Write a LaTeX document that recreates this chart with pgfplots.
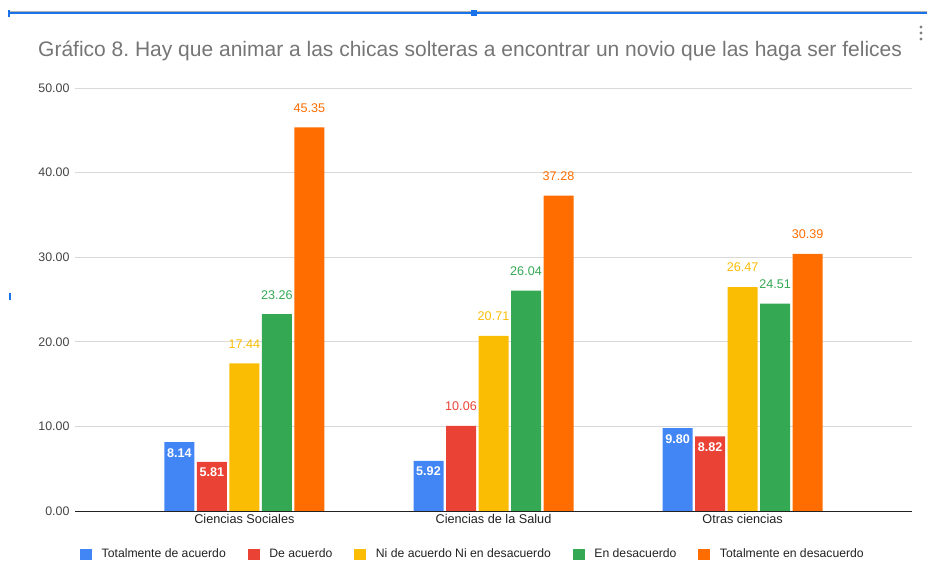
\documentclass[border=0pt]{standalone}
\usepackage{pgfplots}
\pgfplotsset{compat=1.18}
\usepackage{fontspec}
\setmainfont{Liberation Sans}
\frenchspacing
\definecolor{cblue}{HTML}{4285F4}
\definecolor{cred}{HTML}{EA4335}
\definecolor{cyellow}{HTML}{FBBC04}
\definecolor{cgreen}{HTML}{34A853}
\definecolor{corange}{HTML}{FF6D01}
\definecolor{ctitle}{HTML}{757575}
\definecolor{ctick}{HTML}{444444}
\definecolor{ctext}{HTML}{222222}
\definecolor{cgrid}{HTML}{D9D9D9}
\definecolor{sel}{HTML}{1A73E8}
\newcommand\barlabel[1]{%
  \ifdim\pgfplotspointmeta pt<10pt
    \raisebox{-15.7pt}[0pt][0pt]{\color{white}\bfseries\pgfplotspointmeta}%
  \else
    \raisebox{15pt}{\color{#1}\pgfplotspointmeta}%
  \fi}
\begin{document}
\begin{tikzpicture}
\path[use as bounding box] (0pt,0pt) rectangle (927pt,572pt);
\begin{axis}[
  at={(75pt,61pt)}, anchor=south west,
  scale only axis, width=837pt, height=423pt,
  ybar=2.5pt, bar width=30pt,
  xmin=-0.68, xmax=2.68, ymin=0, ymax=50,
  xtick={0,1,2},
  xticklabels={Ciencias Sociales,Ciencias de la Salud,Otras ciencias},
  ytick={0,10,20,30,40,50},
  yticklabel={\pgfmathprintnumber[fixed,fixed zerofill,precision=2]{\tick}},
  /pgf/number format/assume math mode=true,
  major tick length=0pt,
  axis lines*=left,
  y axis line style={draw=none},
  x axis line style={draw=ctext, line width=0.8pt},
  ymajorgrids, grid style={cgrid, line width=0.8pt},
  yticklabel style={font=\fontsize{12.4}{14}\selectfont, text=ctick, xshift=-2pt},
  xticklabel style={font=\fontsize{12.7}{14}\selectfont, text=ctext},
  point meta=explicit symbolic,
  every node near coord/.append style={anchor=south, inner sep=0pt, font=\fontsize{12.6}{14}\selectfont},
  legend columns=5,
  legend image code/.code={\fill[#1,draw=none] (0pt,-5.5pt) rectangle (12pt,5.5pt);},
  legend style={at={(0.4755,-0.1017)}, anchor=center, draw=none, fill=none,
    font=\fontsize{12.2}{14}\selectfont, text=ctext,
    /tikz/every odd column/.append style={column sep=7.5pt},
    /tikz/every even column/.append style={column sep=20pt}},
  legend cell align=left,
]
\addplot[fill=cblue, draw=none, nodes near coords={\barlabel{cblue}}]
  coordinates {(0,8.14) [8.14] (1,5.92) [5.92] (2,9.80) [9.80]};
\addplot[fill=cred, draw=none, nodes near coords={\barlabel{cred}}]
  coordinates {(0,5.81) [5.81] (1,10.06) [10.06] (2,8.82) [8.82]};
\addplot[fill=cyellow, draw=none, nodes near coords={\barlabel{cyellow}}]
  coordinates {(0,17.44) [17.44] (1,20.71) [20.71] (2,26.47) [26.47]};
\addplot[fill=cgreen, draw=none, nodes near coords={\barlabel{cgreen}}]
  coordinates {(0,23.26) [23.26] (1,26.04) [26.04] (2,24.51) [24.51]};
\addplot[fill=corange, draw=none, nodes near coords={\barlabel{corange}}]
  coordinates {(0,45.35) [45.35] (1,37.28) [37.28] (2,30.39) [30.39]};
\legend{Totalmente de acuerdo,De acuerdo,Ni de acuerdo Ni en desacuerdo,En desacuerdo,Totalmente en desacuerdo}
\end{axis}
\node[anchor=base west, inner sep=0pt, text=ctitle, font=\fontsize{21}{24}\selectfont] at (38pt,515pt)
  {Gráfico 8. Hay que animar a las chicas solteras a encontrar un novio que las haga ser felices};
\draw[gray!60, line width=0.6pt] (8pt,560.5pt) -- (927pt,560.5pt);
\draw[sel, line width=1.4pt] (8pt,559pt) -- (927pt,559pt);
\fill[sel] (471pt,556pt) rectangle (477pt,562pt);
\fill[sel] (8pt,555pt) rectangle (10pt,562pt);
\fill[sel] (9pt,272pt) rectangle (11pt,279pt);
\fill[gray] (921pt,545pt) circle (1.6pt);
\fill[gray] (921pt,539pt) circle (1.6pt);
\fill[gray] (921pt,533pt) circle (1.6pt);
\end{tikzpicture}
\end{document}
